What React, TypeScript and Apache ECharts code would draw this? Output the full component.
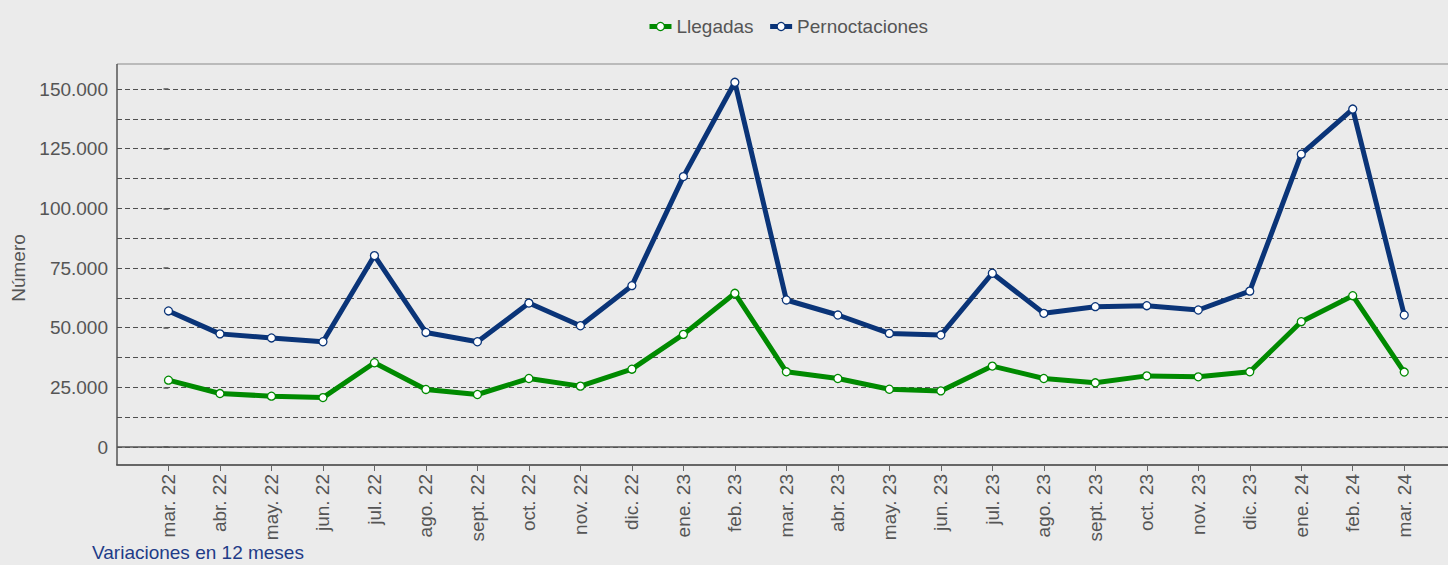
import React, { useEffect, useRef } from "react";
import * as echarts from "echarts";

const categories = [
  "mar. 22", "abr. 22", "may. 22", "jun. 22", "jul. 22", "ago. 22", "sept. 22",
  "oct. 22", "nov. 22", "dic. 22", "ene. 23", "feb. 23", "mar. 23", "abr. 23",
  "may. 23", "jun. 23", "jul. 23", "ago. 23", "sept. 23", "oct. 23", "nov. 23",
  "dic. 23", "ene. 24", "feb. 24", "mar. 24",
];

const llegadas = [
  28000, 22400, 21300, 20700, 35300, 24100, 22000, 28700, 25500, 32600, 47200,
  64400, 31500, 28700, 24200, 23500, 33900, 28700, 26900, 29800, 29400, 31500,
  52500, 63400, 31400,
];

const pernoctaciones = [
  57000, 47400, 45700, 44100, 80200, 48000, 44100, 60300, 50800, 67600, 113300,
  152800, 61600, 55300, 47600, 46900, 72800, 56000, 58800, 59200, 57400, 65300,
  122700, 141600, 55300,
];

const seriesNames = ["Llegadas", "Pernoctaciones"];
const yTicks = [0, 25000, 50000, 75000, 100000, 125000, 150000];
const footerText = "Variaciones en 12 meses";

const FONT = '"Liberation Sans", Arial, sans-serif';
const GREEN = "#008a00";
const BLUE = "#0a3478";
const TEXT = "#555555";

const W = 1448;
const H = 565;
const GRID_LEFT = 117;
const GRID_TOP = 89;
const GRID_BOTTOM = 118;
const FRAME_TOP = 64;
const FRAME_BOTTOM = 465;

const fmt = (v: number) =>
  String(Math.round(v)).replace(/\B(?=(\d{3})+(?!\d))/g, ".");

export default function App() {
  const ref = useRef<HTMLDivElement>(null);

  useEffect(() => {
    document.body.style.margin = "0";
    document.body.style.background = "#ebebeb";
    if (!ref.current) return;
    const chart = echarts.init(ref.current, null, { renderer: "svg" });

    const mkSeries = (name: string, values: number[], color: string, extra: any = {}) => ({
      name,
      type: "line",
      data: values.map((v, i) => [i, v]),
      clip: false,
      symbol: "circle",
      symbolSize: 8,
      showSymbol: true,
      lineStyle: { color, width: 5 },
      itemStyle: { color: "#ffffff", borderColor: color, borderWidth: 1.3 },
      z: 3,
      ...extra,
    });

    const option: any = {
      animation: false,
      backgroundColor: "#ebebeb",
      textStyle: { fontFamily: FONT },
      legend: {
        left: 642,
        top: 12,
        itemWidth: 22,
        itemHeight: 10,
        itemGap: 14,
        textStyle: { fontSize: 19, color: TEXT, fontFamily: FONT },
        data: seriesNames.map((n, i) => ({
          name: n,
          itemStyle: { color: "#ffffff", borderColor: i === 0 ? GREEN : BLUE, borderWidth: 1.3 },
          lineStyle: { color: i === 0 ? GREEN : BLUE, width: 5 },
        })),
      },
      grid: {
        left: GRID_LEFT,
        right: 0,
        top: GRID_TOP,
        bottom: GRID_BOTTOM,
        containLabel: false,
      },
      xAxis: {
        type: "value",
        min: -1,
        max: 24.85,
        interval: 1,
        offset: FRAME_BOTTOM - (H - GRID_BOTTOM),
        axisLine: { show: true, onZero: false, lineStyle: { color: "#666666", width: 2 } },
        axisTick: {
          show: true,
          length: 6,
          lineStyle: { color: "#666666", width: 1 },
          customValues: categories.map((_, i) => i),
        },
        axisLabel: {
          rotate: 90,
          margin: 9,
          fontSize: 19,
          color: TEXT,
          fontFamily: FONT,
          customValues: categories.map((_, i) => i),
          formatter: (v: number) =>
            Number.isInteger(v) && v >= 0 && v < categories.length ? categories[v] : "",
        },
        splitLine: { show: false },
      },
      yAxis: {
        type: "value",
        min: yTicks[0],
        max: yTicks[yTicks.length - 1],
        interval: yTicks[1] - yTicks[0],
        name: "Número",
        nameLocation: "middle",
        nameGap: 88,
        nameTextStyle: { fontSize: 19, color: TEXT, fontFamily: FONT },
        axisLine: { show: false },
        axisTick: { show: true, length: 5, lineStyle: { color: TEXT, width: 1.5 } },
        axisLabel: {
          margin: 9,
          fontSize: 19,
          color: TEXT,
          fontFamily: FONT,
          formatter: (v: number) => fmt(v),
        },
        splitLine: { show: true, lineStyle: { color: "#4f4f4f", width: 1.2, type: [5, 3] } },
        minorTick: { show: false, splitNumber: 2 },
        minorSplitLine: { show: true, lineStyle: { color: "#4f4f4f", width: 1.2, type: [5, 3] } },
      },
      series: [
        mkSeries(seriesNames[0], llegadas, GREEN, {
          markLine: {
            silent: true,
            symbol: "none",
            label: { show: false },
            lineStyle: { color: "#555555", width: 1.5, type: "solid" },
            data: [{ yAxis: 0 }],
            z: 1,
          },
        }),
        mkSeries(seriesNames[1], pernoctaciones, BLUE),
      ],
      graphic: [
        {
          type: "line",
          silent: true,
          z: 10,
          shape: { x1: GRID_LEFT, y1: FRAME_TOP, x2: W, y2: FRAME_TOP },
          style: { stroke: "#aaaaaa", lineWidth: 1.5 },
        },
        {
          type: "line",
          silent: true,
          z: 10,
          shape: { x1: GRID_LEFT, y1: FRAME_TOP, x2: GRID_LEFT, y2: FRAME_BOTTOM },
          style: { stroke: "#555555", lineWidth: 1.5 },
        },
        {
          type: "text",
          left: 92,
          top: 543,
          silent: true,
          style: {
            text: footerText,
            fontSize: 19,
            fontFamily: FONT,
            fill: "#1f3c88",
          },
        },
      ],
    };

    chart.setOption(option);
    return () => chart.dispose();
  }, []);

  return <div ref={ref} style={{ width: W, height: H }} />;
}
